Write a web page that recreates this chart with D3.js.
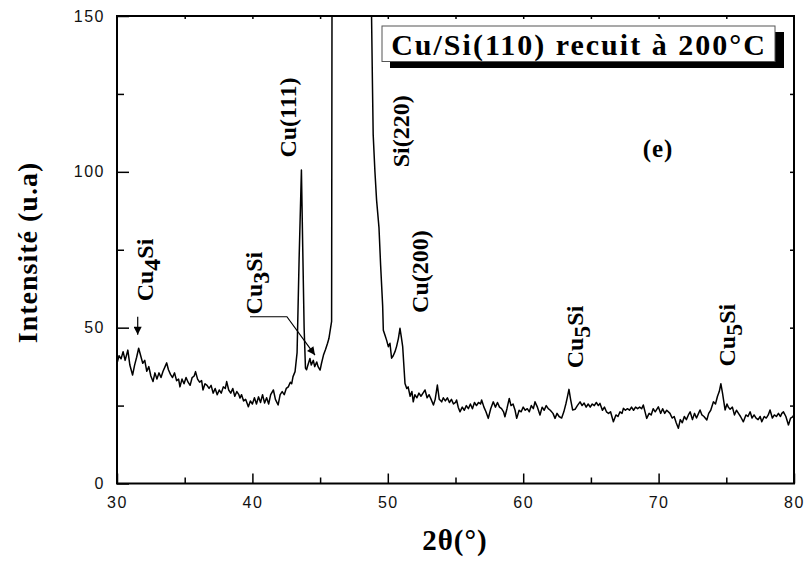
<!DOCTYPE html>
<html>
<head>
<meta charset="utf-8">
<script src="https://cdn.jsdelivr.net/npm/d3@7"></script>
<style>
  html, body { margin: 0; padding: 0; background: #fff; }
  svg { display: block; }
</style>
</head>
<body>
<svg id="chart" width="806" height="563"></svg>
<script>
// ---------------- DATA ----------------
const twoTheta = [
  30.0,30.15,30.3,30.45,30.6,30.8,30.95,31.15,31.3,31.45,31.6,31.75,31.9,32.05,32.2,32.35,32.5,32.66,32.8,32.95,
  33.1,33.25,33.4,33.55,33.67,33.8,33.95,34.1,34.25,34.4,34.55,34.65,34.8,34.95,35.1,35.25,35.4,35.55,35.7,35.8,
  35.95,36.1,36.25,36.35,36.5,36.65,36.8,36.95,37.1,37.25,37.4,37.55,37.7,37.85,38.0,38.1,38.25,38.4,38.55,38.7,
  38.85,39.0,39.08,39.2,39.35,39.5,39.7,39.85,40.0,40.15,40.3,40.45,40.6,40.75,40.9,41.05,41.2,41.35,41.55,41.7,
  41.9,42.05,42.2,42.35,42.5,42.65,42.8,42.9,43.0,43.15,43.3,43.45,43.62,43.72,43.82,43.92,44.0,44.1,44.25,44.35,
  44.5,44.6,44.75,44.85,45.0,45.1,45.25,45.4,45.55,45.65,45.73,45.85,45.95,46.5,47.3,48.2,48.7,48.8,48.86,48.92,
  49.05,49.17,49.35,49.47,49.62,49.67,49.8,49.91,50.04,50.16,50.28,50.4,50.53,50.65,50.78,50.9,51.0,51.1,51.27,51.4,
  51.5,51.65,51.78,51.88,52.0,52.15,52.3,52.45,52.6,52.75,52.9,53.05,53.2,53.37,53.5,53.66,53.8,53.98,54.1,54.25,
  54.4,54.55,54.7,54.85,55.0,55.08,55.2,55.33,55.5,55.65,55.8,55.95,56.1,56.25,56.4,56.55,56.7,56.85,56.93,57.1,
  57.25,57.42,57.6,57.79,57.95,58.1,58.25,58.4,58.55,58.65,58.8,58.97,59.1,59.25,59.4,59.52,59.7,59.85,60.0,60.15,
  60.3,60.45,60.6,60.75,60.87,61.05,61.24,61.4,61.55,61.7,61.85,62.0,62.2,62.35,62.5,62.65,62.84,63.0,63.15,63.25,
  63.38,63.5,63.65,63.83,64.0,64.2,64.35,64.5,64.65,64.8,64.95,65.1,65.25,65.4,65.55,65.67,65.85,66.0,66.15,66.3,
  66.45,66.66,66.85,67.0,67.15,67.3,67.4,67.55,67.7,67.85,68.0,68.15,68.3,68.45,68.6,68.75,68.87,69.0,69.12,69.3,
  69.45,69.6,69.75,69.98,70.15,70.3,70.45,70.6,70.84,71.0,71.15,71.3,71.46,71.6,71.75,71.9,72.05,72.2,72.33,72.5,
  72.65,72.8,72.95,73.06,73.2,73.35,73.56,73.7,73.85,74.05,74.2,74.35,74.48,74.6,74.72,74.91,75.05,75.15,75.28,75.45,
  75.6,75.75,75.9,76.05,76.26,76.45,76.6,76.76,76.9,77.05,77.2,77.35,77.5,77.62,77.8,77.95,78.1,78.23,78.4,78.55,
  78.7,78.85,79.0,79.1,79.22,79.4,79.59,79.75,79.9,80.0
];
const intensity = [
  38.6,41,40,42.3,39.5,42.8,38,34.8,38,40.5,43.4,41,38.6,39.5,36,37.5,34.5,32.7,35.5,33.5,
  35.5,34,36,37.5,38.7,36.5,35,34,35.5,33,33.5,31,33.5,32,34,32.5,31.5,34,34.5,35.9,
  33.5,32.5,33,30,32,31.5,30.5,31.5,29,30.5,28.5,30,29,31,30.5,32.7,30,29,30.5,28,
  29.5,28.5,27.4,28.5,26.5,27,24.6,26.5,25.5,27.5,25.5,27.8,26,28.5,25.8,27.5,25.5,28.5,30,27,
  25.2,28.5,29.5,28.5,30.5,31,32.5,32,34.3,35.9,42,72,100.6,75,50,37,36.5,38,40.1,38,
  39.5,37.5,39,37.5,36.4,38.5,41.2,43,45,46.5,48.7,52,400,1500,5000,1500,300,150,130,112,
  100,91,82,70,57,49.2,47.5,46,43.9,45,40.2,41,42.3,44,46.5,49.8,47,43.9,32.1,30.5,
  31,28,29.5,26.2,28.5,27.5,29,28,29,30,27.5,28.5,27,25.2,27,31.6,27,26.2,27.5,26.5,
  27.5,26,27,25.5,26,26.8,24.5,23,24.5,23.5,25,24,25.5,24,26,25,26,25.5,26.8,24.5,
  23,20.9,24,26.2,24.5,26,24.5,24,23,21.4,24,27.3,25,25.5,23.5,20.9,23.5,23,24.5,23.5,
  24,23,25,24,26.2,24.5,22,24.5,23.5,25,24,23.5,22.5,20.9,22.5,21.5,21,23,25.5,27.5,
  30.2,27,23.6,23.8,25,26.2,25,25.8,24.5,25.5,24.5,25.5,25,26,25,25.7,23.5,24.5,23,22.5,
  23,19.8,22,21.5,23,22.5,24.1,23.5,24,23.5,24.5,23.5,24.5,24,24.5,24,25.2,23,20.9,22.5,
  22,24,23,24.6,22.5,24,22.5,23.5,22.5,21,21.5,19.5,17.7,20.5,19.5,21.5,20.5,22,23,20.5,
  22.5,21,22.5,23.6,22,21.5,20.4,22.5,23.5,26.2,25.5,28,29.5,32,29,23.6,25.5,24.5,23.8,24.5,
  22,23.5,22.5,21.5,19.8,22,21.5,23,21,22,21,20.5,21.5,19.8,21.5,21,22,23.6,21,22,
  21.5,22.5,21.5,22.5,23,21.5,18.8,21,21.4,22
];
const xMajorTicks = [30, 40, 50, 60, 70, 80];
const xMinorTicks = [35, 45, 55, 65, 75];
const yMajorTicks = [0, 50, 100, 150];
const yMinorTicks = [25, 75, 125];
const titleText = "Cu/Si(110) recuit à 200°C";
const xTitle = "2θ(°)";
const yTitle = "Intensité (u.a)";
const panelLabel = "(e)";
// peak annotations: [main, subscript, rest, x (2θ), y (intensity)]
const peakLabels = [
  ["Cu(111)", "", "", 43.2, 117.4],
  ["Si(220)", "", "", 51.57, 113],
  ["Cu(200)", "", "", 52.97, 68],
  ["Cu", "5", "Si", 64.42, 47],
  ["Cu", "5", "Si", 75.65, 47.6],
  ["Cu", "4", "Si", 32.66, 68.5],
  ["Cu", "3", "Si", 40.71, 64.3]
];

(function () {
// ---------------- LAYOUT ----------------
const svg = d3.select("#chart");
const pL = 117, pR = 794, pT = 16, pB = 483.5;
const x = d3.scaleLinear().domain([30, 80]).range([pL, pR]);
const y = d3.scaleLinear().domain([0, 150]).range([pB, pT]);
const serif = "'Liberation Serif','Times New Roman',Times,serif";
const sans = "'Liberation Sans',Arial,Helvetica,sans-serif";

const defs = svg.append("defs");
defs.append("clipPath").attr("id", "plotClip")
  .append("rect").attr("x", pL).attr("y", pT).attr("width", pR - pL).attr("height", pB - pT);
defs.append("marker").attr("id", "arrowHead").attr("viewBox", "0 0 10 10")
  .attr("refX", 10).attr("refY", 5).attr("markerWidth", 10).attr("markerHeight", 8)
  .attr("markerUnits", "userSpaceOnUse").attr("orient", "auto")
  .append("path").attr("d", "M0,0 L10,5 L0,10 Z").attr("fill", "#000");

// data line
const pts = twoTheta.map((t, i) => [t, intensity[i]]);
svg.append("path")
  .datum(pts)
  .attr("clip-path", "url(#plotClip)")
  .attr("fill", "none")
  .attr("stroke", "#000")
  .attr("stroke-width", 1.5)
  .attr("stroke-linejoin", "round")
  .attr("d", d3.line().x(d => x(d[0])).y(d => y(d[1])));

// axes
function styleAxis(g) {
  g.select(".domain").remove();
  g.selectAll(".tick line").attr("stroke", "#000").attr("stroke-width", 1.5);
  g.selectAll("text").attr("font-family", sans).attr("font-size", 16).attr("fill", "#111")
    .attr("letter-spacing", "1.5px");
}
svg.append("g").attr("transform", `translate(0,${pB})`)
  .call(d3.axisBottom(x).tickValues(xMajorTicks).tickSizeInner(-10).tickSizeOuter(0).tickPadding(13).tickFormat(d3.format("d")))
  .call(styleAxis);
svg.append("g").attr("transform", `translate(0,${pB})`)
  .call(d3.axisBottom(x).tickValues(xMinorTicks).tickSizeInner(-6).tickSizeOuter(0).tickFormat(""))
  .call(styleAxis);
svg.append("g").attr("transform", `translate(${pL},0)`)
  .call(d3.axisLeft(y).tickValues(yMajorTicks).tickSizeInner(-12).tickSizeOuter(0).tickPadding(12).tickFormat(d3.format("d")))
  .call(styleAxis);
svg.append("g").attr("transform", `translate(${pL},0)`)
  .call(d3.axisLeft(y).tickValues(yMinorTicks).tickSizeInner(-7).tickSizeOuter(0).tickFormat(""))
  .call(styleAxis);
svg.append("g").attr("transform", `translate(${pR},0)`)
  .call(d3.axisRight(y).tickValues(yMinorTicks.concat([50, 100])).tickSizeInner(-4).tickSizeOuter(0).tickFormat(""))
  .call(styleAxis);
svg.append("g").attr("transform", `translate(0,${pT})`)
  .call(d3.axisTop(x).tickValues(xMinorTicks.concat([40, 50, 60, 70])).tickSizeInner(-3).tickSizeOuter(0).tickFormat(""))
  .call(styleAxis);

// frame
svg.append("rect").attr("x", pL).attr("y", pT).attr("width", pR - pL).attr("height", pB - pT)
  .attr("fill", "none").attr("stroke", "#000").attr("stroke-width", 2);

// axis titles
svg.append("text").attr("x", 455).attr("y", 550).attr("text-anchor", "middle")
  .attr("font-family", serif).attr("font-weight", "bold").attr("font-size", 29).attr("letter-spacing", "1px")
  .text(xTitle);
svg.append("text").attr("transform", "translate(37,252.5) rotate(-90)").attr("text-anchor", "middle")
  .attr("font-family", serif).attr("font-weight", "bold").attr("font-size", 28).attr("letter-spacing", "1px")
  .text(yTitle);

// title box with shadow
svg.append("rect").attr("x", 390).attr("y", 32).attr("width", 394).attr("height", 36).attr("fill", "#000");
svg.append("rect").attr("x", 382).attr("y", 26).attr("width", 393).attr("height", 35.5)
  .attr("fill", "#fff").attr("stroke", "#555").attr("stroke-width", 1);
svg.append("text").attr("x", 579).attr("y", 55).attr("text-anchor", "middle")
  .attr("font-family", serif).attr("font-weight", "bold").attr("font-size", 30).attr("letter-spacing", "2px")
  .text(titleText);

// panel label
svg.append("text").attr("x", 658).attr("y", 157).attr("text-anchor", "middle")
  .attr("font-family", serif).attr("font-weight", "bold").attr("font-size", 25).attr("letter-spacing", "1px")
  .text(panelLabel);

// peak labels (rotated)
peakLabels.forEach(([main, sub, rest, tx, ty]) => {
  const t = svg.append("text")
    .attr("transform", `translate(${x(tx)},${y(ty)}) rotate(-90)`)
    .attr("text-anchor", "middle")
    .attr("font-family", serif).attr("font-weight", "bold").attr("font-size", 24);
  t.append("tspan").text(main);
  if (sub) {
    t.append("tspan").attr("dy", 7).text(sub);
    t.append("tspan").attr("dy", -7).text(rest);
  }
});

// arrows
svg.append("path")
  .attr("d", d3.line()([[x(31.53), y(53.5)], [x(31.53), y(47.7)]]))
  .attr("stroke", "#000").attr("stroke-width", 1.2).attr("fill", "none")
  .attr("marker-end", "url(#arrowHead)");
svg.append("path")
  .attr("d", d3.line()([[x(39.82), y(53.5)], [x(42.55), y(53.5)], [x(44.62), y(41.2)]]))
  .attr("stroke", "#000").attr("stroke-width", 1.2).attr("fill", "none")
  .attr("marker-end", "url(#arrowHead)");
})();
</script>
</body>
</html>
